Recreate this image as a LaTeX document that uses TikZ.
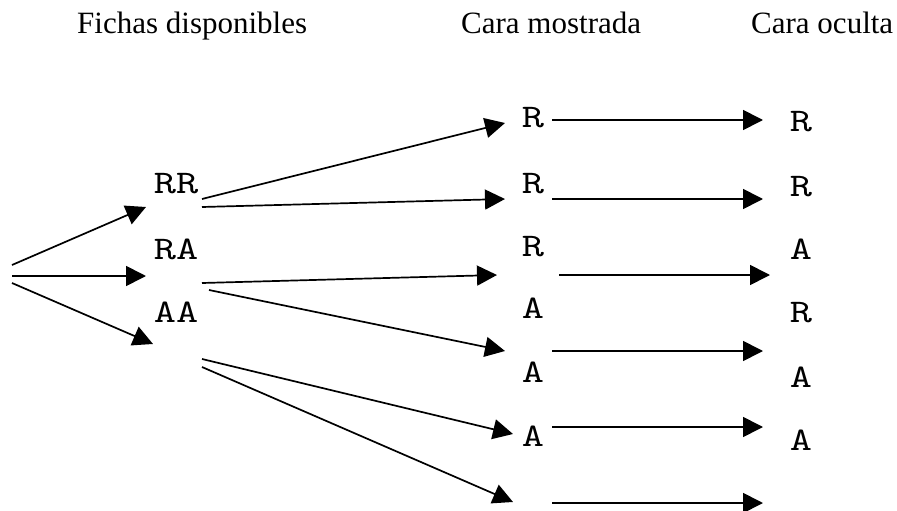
\documentclass[tikz,border=0pt]{standalone}
\usepackage{fontspec}
\setmainfont{Liberation Serif}
\newfontfamily\chipfont{lmmono10-regular.otf}[FakeStretch=1.28]
\usetikzlibrary{arrows.meta}

\tikzset{
  header/.style={anchor=base west, inner sep=0pt, font=\fontsize{31}{36}\selectfont},
  chip/.style={inner sep=0pt, font=\chipfont\fontsize{33}{38}\selectfont},
  link/.style={line width=1.7pt, -{Triangle[length=20pt,width=20pt]}}
}

\begin{document}
\begin{tikzpicture}[x=1pt, y=-1pt]
\useasboundingbox (0,0) rectangle (897,511);

% column headings
\node[header] (h1) at (77,34) {Fichas disponibles};
\node[header] (h2) at (461,34) {Cara mostrada};
\node[header] (h3) at (751,34) {Cara oculta};

% available chips
\node[chip] (c1) at (176,184) {RR};
\node[chip] (c2) at (176,249) {RA};
\node[chip] (c3) at (176,312) {AA};

% face shown
\node[chip] (m1) at (533,118) {R};
\node[chip] (m2) at (533,184) {R};
\node[chip] (m3) at (533,247) {R};
\node[chip] (m4) at (533,308) {A};
\node[chip] (m5) at (533,372) {A};
\node[chip] (m6) at (533,436) {A};

% hidden face
\node[chip] (o1) at (801,122) {R};
\node[chip] (o2) at (801,187) {R};
\node[chip] (o3) at (801,249) {A};
\node[chip] (o4) at (801,313) {R};
\node[chip] (o5) at (801,377) {A};
\node[chip] (o6) at (801,440) {A};

% end points of the branches
\coordinate (s1) at (12,265);
\coordinate (s2) at (12,276);
\coordinate (s3) at (12,283);
\coordinate (e1) at (146,207);
\coordinate (e2) at (146,276);
\coordinate (e3) at (153,344);

\coordinate (a1) at (202,199); \coordinate (b1) at (505,123);
\coordinate (a2) at (202,207); \coordinate (b2) at (505,199);
\coordinate (a3) at (202,283); \coordinate (b3) at (497,275);
\coordinate (a4) at (209,290); \coordinate (b4) at (505,351);
\coordinate (a5) at (202,359); \coordinate (b5) at (513,434);
\coordinate (a6) at (202,367); \coordinate (b6) at (513,502);

\coordinate (p1) at (552,120); \coordinate (q1) at (763,120);
\coordinate (p2) at (552,199); \coordinate (q2) at (763,199);
\coordinate (p3) at (559,275); \coordinate (q3) at (770,275);
\coordinate (p4) at (552,351); \coordinate (q4) at (763,351);
\coordinate (p5) at (552,427); \coordinate (q5) at (763,427);
\coordinate (p6) at (552,503); \coordinate (q6) at (763,503);

% first level
\draw[link] (s1) -- (e1);
\draw[link] (s2) -- (e2);
\draw[link] (s3) -- (e3);

% second level
\foreach \i in {1,...,6} {
  \draw[link] (a\i) -- (b\i);
  \draw[link] (p\i) -- (q\i);
}
\end{tikzpicture}
\end{document}
